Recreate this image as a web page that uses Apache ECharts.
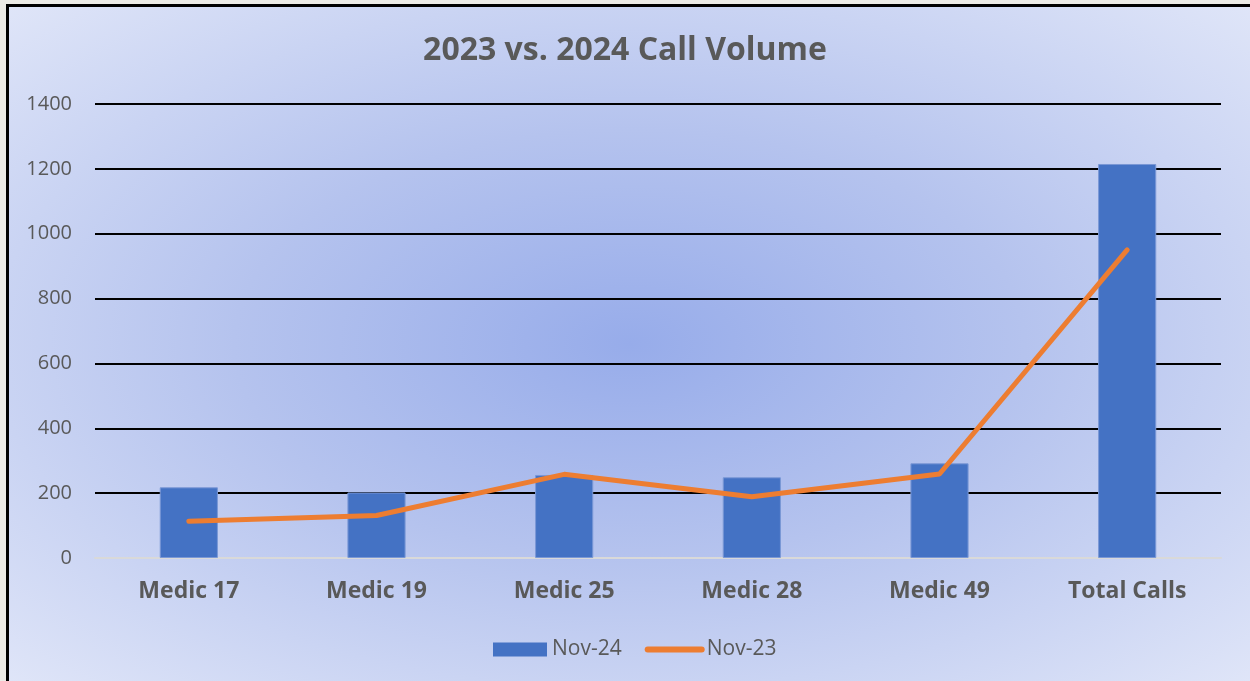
<!DOCTYPE html>
<html>
<head>
<meta charset="utf-8">
<script src="https://cdn.jsdelivr.net/npm/echarts@6/dist/echarts.min.js"></script>
<style>
  html, body { margin: 0; padding: 0; }
  body { width: 1250px; height: 681px; background: #ecebe6; overflow: hidden; }
  /* chart frame: only the top and left edges show in the crop */
  #frame {
    position: absolute; left: 6px; top: 4px; width: 1244px; height: 677px;
    border-top: 3px solid #000; border-left: 3px solid #000; box-sizing: border-box;
    background: radial-gradient(ellipse farthest-corner at 50% 50%, #97acea 0%, #b5c3ee 45%, #dfe5f8 100%);
  }
  #chart { position: absolute; left: 0; top: 0; width: 1250px; height: 681px; }
</style>
</head>
<body>
<div id="frame"></div>
<div id="chart"></div>
<script>
const categories = ['Medic 17', 'Medic 19', 'Medic 25', 'Medic 28', 'Medic 49', 'Total Calls']
const nov24 = [218, 202, 256, 249, 292, 1215]
const nov23 = [113, 131, 258, 189, 259, 950]
const yTicks = [0, 200, 400, 600, 800, 1000, 1200, 1400]

const chart = echarts.init(document.getElementById('chart'))

const option = {
  backgroundColor: 'transparent',
  textStyle: { fontFamily: 'Open Sans' },
  title: {
    text: '2023 vs. 2024 Call Volume',
    left: 'center',
    top: 30,
    textStyle: { fontSize: 32, fontWeight: 'bold', color: '#595959', fontFamily: 'Open Sans' }
  },
  legend: {
    bottom: 16,
    left: 488,
    itemGap: 23,
    itemWidth: 54,
    itemHeight: 14,
    textStyle: { fontSize: 21, color: '#595959' },
    data: [
      { name: 'Nov-24', icon: 'rect', itemStyle: { borderWidth: 0 } },
      // line only, no marker in the key
      { name: 'Nov-23', itemStyle: { opacity: 0 }, lineStyle: { width: 6, cap: 'round' } }
    ]
  },
  grid: { left: 95, right: 29, top: 104, bottom: 123 },
  xAxis: {
    type: 'category',
    data: categories,
    axisLine: { lineStyle: { color: '#d9d9d9', width: 2 } },
    axisTick: { show: false },
    axisLabel: { fontSize: 23, fontWeight: 'bold', color: '#595959', margin: 22 }
  },
  yAxis: {
    type: 'value',
    min: yTicks[0],
    max: yTicks[yTicks.length - 1],
    interval: 200,
    axisLine: { show: false },
    axisTick: { show: false },
    axisLabel: { fontSize: 20, color: '#595959', margin: 23, formatter: (v) => String(v) },
    splitLine: { lineStyle: { color: '#000', width: 2 } }
  },
  series: [
    {
      name: 'Nov-24',
      type: 'bar',
      data: nov24,
      barWidth: '31%',
      itemStyle: { color: '#4472c4', borderColor: '#7b98d6', borderWidth: 1 }
    },
    {
      name: 'Nov-23',
      type: 'line',
      data: nov23,
      symbol: 'none',
      lineStyle: { color: '#ed7d31', width: 5, cap: 'round', join: 'round' },
      itemStyle: { color: '#ed7d31' }
    }
  ]
}

chart.setOption(option)
</script>
</body>
</html>
